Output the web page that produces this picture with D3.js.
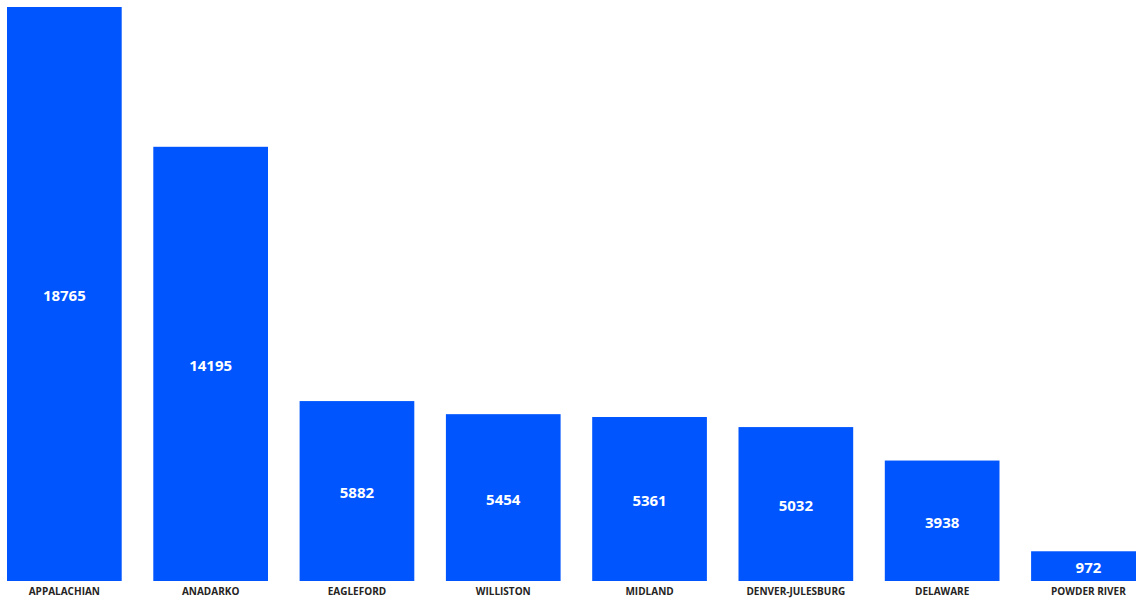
<!DOCTYPE html>
<html>
<head>
<meta charset="utf-8">
<script src="https://cdn.jsdelivr.net/npm/d3@7"></script>
<style>
  body { margin: 0; background: #fff; overflow: hidden; }
  svg { display: block; }
</style>
</head>
<body>
<svg id="chart"></svg>
<script>
const basins = ['APPALACHIAN', 'ANADARKO', 'EAGLEFORD', 'WILLISTON', 'MIDLAND', 'DENVER-JULESBURG', 'DELAWARE', 'POWDER RIVER'];
const counts = [18765, 14195, 5882, 5454, 5361, 5032, 3938, 972];

const width = 1136;
const height = 601;

const svg = d3.select('#chart')
    .attr('width', width)
    .attr('height', height);

const x = d3.scaleBand()
    .domain(basins)
    .range([7, 1145.8])
    .paddingInner(0.216)
    .paddingOuter(0);

const y = d3.scaleLinear()
    .domain([0, 18765])
    .range([581, 7]);

const data = basins.map((b, i) => ({ basin: b, value: counts[i] }));

svg.selectAll('rect')
    .data(data)
    .enter()
    .append('rect')
    .attr('x', d => x(d.basin))
    .attr('y', d => y(d.value))
    .attr('width', x.bandwidth())
    .attr('height', d => y(0) - y(d.value))
    .attr('fill', '#0055ff');

svg.selectAll('.val')
    .data(data)
    .enter()
    .append('text')
    .attr('class', 'val')
    .attr('x', d => x(d.basin) + x.bandwidth() / 2)
    .attr('y', d => (y(d.value) + y(0)) / 2)
    .attr('dy', '0.47em')
    .attr('text-anchor', 'middle')
    .attr('fill', '#fff')
    .style('font-family', '"Open Sans", sans-serif')
    .style('font-weight', 'bold')
    .style('font-size', '15px')
    .text(d => d.value);

const xAxis = svg.append('g')
    .attr('transform', 'translate(0,581)')
    .call(d3.axisBottom(x).tickSize(0).tickPadding(0));

xAxis.select('.domain').remove();
xAxis.selectAll('text')
    .attr('y', 14)
    .attr('dy', 0)
    .attr('fill', '#252423')
    .style('font-family', '"Open Sans", sans-serif')
    .style('font-weight', 'bold')
    .style('font-size', '10px');
</script>
</body>
</html>
